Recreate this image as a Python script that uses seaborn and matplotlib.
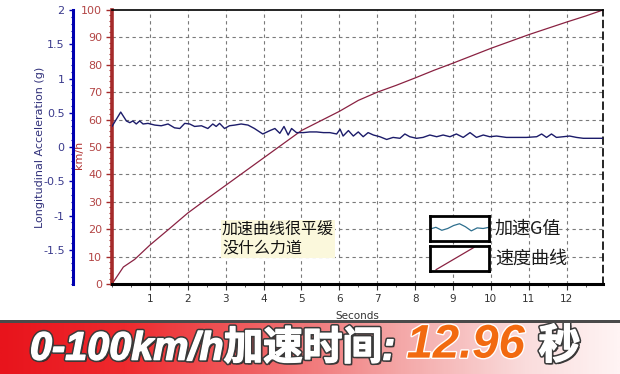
import matplotlib
matplotlib.use("Agg")
import matplotlib.pyplot as plt
import seaborn as sns
import numpy as np
from matplotlib import patheffects as pe
from matplotlib.colors import LinearSegmentedColormap
from matplotlib.patches import Rectangle

# ---------------- data ----------------
speed_t = [0, 0.3, 0.6, 1.0, 1.5, 2.0, 2.5, 3.0, 3.5, 4.0, 4.5, 5.0, 5.5, 6.0,
           6.5, 7.0, 7.5, 8.0, 8.5, 9.0, 9.5, 10.0, 10.5, 11.0, 11.5, 12.0,
           12.5, 12.96]
speed_kmh = [0, 6.2, 9.0, 14.2, 20.0, 25.9, 31.0, 36.0, 41.0, 46.0, 51.0,
             56.0, 59.5, 63.0, 67.0, 70.0, 72.5, 75.2, 78.0, 80.6, 83.3, 86.0,
             88.5, 91.0, 93.3, 95.6, 97.8, 100.0]

acc_t = [0.00, 0.23, 0.38, 0.47, 0.55, 0.64, 0.73, 0.82, 0.95, 1.13, 1.30,
         1.48, 1.65, 1.79, 1.92, 2.05, 2.18, 2.36, 2.53, 2.66, 2.75, 2.84,
         2.97, 3.10, 3.24, 3.41, 3.59, 3.76, 3.98, 4.17, 4.30, 4.43, 4.54,
         4.65, 4.74, 4.87, 5.05, 5.22, 5.40, 5.58, 5.75, 5.93, 6.02, 6.10,
         6.24, 6.37, 6.50, 6.63, 6.76, 6.90, 7.07, 7.25, 7.42, 7.60, 7.73,
         7.86, 8.04, 8.21, 8.39, 8.57, 8.74, 8.92, 9.09, 9.27, 9.45, 9.62,
         9.80, 9.97, 10.15, 10.41, 10.68, 10.94, 11.21, 11.34, 11.47, 11.60,
         11.73, 11.91, 12.08, 12.26, 12.44, 12.61, 12.96]
acc_g = [0.30, 0.51, 0.38, 0.355, 0.38, 0.336, 0.38, 0.336, 0.345, 0.32, 0.31,
         0.336, 0.28, 0.27, 0.345, 0.336, 0.30, 0.31, 0.27, 0.336, 0.30, 0.345,
         0.27, 0.31, 0.32, 0.336, 0.32, 0.27, 0.19, 0.24, 0.27, 0.20, 0.30,
         0.175, 0.27, 0.21, 0.21, 0.22, 0.22, 0.21, 0.21, 0.19, 0.26, 0.16,
         0.24, 0.16, 0.22, 0.15, 0.21, 0.175, 0.15, 0.11, 0.14, 0.127, 0.19,
         0.15, 0.127, 0.14, 0.175, 0.15, 0.175, 0.15, 0.19, 0.14, 0.21, 0.14,
         0.175, 0.15, 0.16, 0.14, 0.14, 0.14, 0.15, 0.19, 0.14, 0.19,
         0.14, 0.15, 0.16, 0.14, 0.127, 0.127, 0.127]

x_ticks = list(range(1, 13))
speed_ticks = [0, 10, 20, 30, 40, 50, 60, 70, 80, 90, 100]
acc_ticks = [2, 1.5, 1, 0.5, 0, -0.5, -1, -1.5]
acc_tick_labels = ["2", "1.5", "1", "0.5", "0", "-0.5", "-1", "-1.5"]

note_text = "加速曲线很平缓\n没什么力道"
legend_labels = ["加速G值", "速度曲线"]
legend_sample_acc = [0.0, 0.3, -0.2, 0.1, 0.6, 0.9, 0.4, -0.3, 0.2, 0.1, 0.3]
banner_main = "0-100km/h加速时间:"
banner_value = "12.96"
banner_unit = "秒"

# ---------------- style ----------------
sns.set_theme(style="white")
plt.rcParams["font.family"] = ["DejaVu Sans", "Noto Sans CJK SC"]
cjk = ["Noto Sans CJK SC", "DejaVu Sans"]

W, H = 620, 374
fig = plt.figure(figsize=(6.2, 3.74), dpi=100)
fig.patch.set_facecolor("white")
L, R, T, B = 112, 603, 10, 284
ax = fig.add_axes([L / W, (H - B) / H, (R - L) / W, (B - T) / H])
ax.set_facecolor("white")

speed_col = "#8a2242"
acc_col = "#1c1c6a"

sns.lineplot(x=speed_t, y=speed_kmh, ax=ax, color=speed_col, lw=0.9)
ax.set_xlim(0, 12.96)
ax.set_ylim(0, 100)

ax2 = ax.twinx()
sns.lineplot(x=acc_t, y=acc_g, ax=ax2, color=acc_col, lw=1.0)
ax2.set_ylim(-2, 2)

# grid
for xv in x_ticks:
    ax.axvline(xv, color="#7a7a7a", lw=0.8, ls=(0, (3, 3)), zorder=0)
for yv in speed_ticks[1:-1]:
    ax.axhline(yv, color="#7a7a7a", lw=0.8, ls=(0, (3, 3)), zorder=0)

# main axis (speed)
ax.set_xticks(x_ticks)
ax.set_xticklabels([str(v) for v in x_ticks], fontsize=7.5, color="#333333")
ax.set_yticks(speed_ticks)
ax.set_yticklabels([str(v) for v in speed_ticks], fontsize=8, color="#b34545")
ax.set_yticks(np.arange(0, 101, 2), minor=True)
ax.set_xticks(np.arange(0, 12.96, 0.5), minor=True)
ax.tick_params(axis="y", which="major", direction="out", length=4, width=1,
               color="#a52a2a", pad=3, left=True)
ax.tick_params(axis="y", which="minor", direction="out", length=2, width=0.8,
               color="#a52a2a", left=True)
ax.tick_params(axis="x", which="major", direction="out", length=4, width=0.8,
               color="#333333", pad=3, bottom=True)
ax.tick_params(axis="x", which="minor", direction="out", length=2, width=0.6,
               color="#333333", bottom=True)
for s in ["left", "right", "top", "bottom"]:
    ax.spines[s].set_visible(True)
ax.spines["left"].set_color("#a52a2a")
ax.spines["left"].set_linewidth(2.6)
ax.spines["bottom"].set_color("black")
ax.spines["bottom"].set_linewidth(2.2)
ax.spines["top"].set_color("black")
ax.spines["top"].set_linewidth(1.2)
ax.spines["right"].set_color("black")
ax.spines["right"].set_linewidth(1.2)
ax.spines["right"].set_linestyle((0, (4, 3)))
ax.set_xlabel("Seconds", fontsize=7.5, color="#333333")
ax.xaxis.set_label_coords(0.5, -0.1)
ax.set_ylabel("km/h", fontsize=8, color="#b03030")
ax.yaxis.set_label_coords(-0.058, 0.47)

# acceleration axis on far left
ax2.yaxis.tick_left()
ax2.yaxis.set_label_position("left")
for s in ["right", "top", "bottom"]:
    ax2.spines[s].set_visible(False)
ax2.spines["left"].set_visible(True)
ax2.spines["left"].set_position(("axes", -39 / 491))
ax2.spines["left"].set_color("#0000b0")
ax2.spines["left"].set_linewidth(2.2)
ax2.set_yticks(acc_ticks)
ax2.set_yticklabels(acc_tick_labels, fontsize=8, color="#3a3a8c")
ax2.set_yticks(np.arange(-2, 2.01, 0.1), minor=True)
ax2.tick_params(axis="y", which="major", direction="out", length=3, width=1,
                color="#0000b0", pad=3, left=True, right=False)
ax2.tick_params(axis="y", which="minor", direction="out", length=1.5,
                width=0.8, color="#0000b0", left=True, right=False)
ax2.set_ylabel("Longitudinal Acceleration (g)", fontsize=8, color="#30307a")
ax2.yaxis.set_label_coords(-0.137, 0.5)
ax2.grid(False)

# annotation
ax.text((222 - L) / (R - L), (B - 239) / (B - T), note_text, transform=ax.transAxes,
        ha="left", va="center", fontsize=11.5, family=cjk, color="#111111",
        linespacing=1.1, zorder=5,
        bbox=dict(boxstyle="square,pad=0.08", facecolor="#fbf8dc", edgecolor="none"))

# legend boxes
bx0, bx1 = (430 - L) / (R - L), (489 - L) / (R - L)
boxes = [(216, 241), (246, 271)]
for i, (y0, y1) in enumerate(boxes):
    ia = ax.inset_axes([bx0, (B - y1) / (B - T), bx1 - bx0, (y1 - y0) / (B - T)])
    ia.set_facecolor("white")
    ia.set_xticks([]); ia.set_yticks([])
    for s in ia.spines.values():
        s.set_visible(True); s.set_color("black"); s.set_linewidth(2.0)
    if i == 0:
        xs = np.linspace(0, 1, len(legend_sample_acc))
        ia.plot(xs, legend_sample_acc, color="#2e6f8e", lw=0.9)
        ia.set_xlim(0, 1); ia.set_ylim(-2, 2.2)
    else:
        ia.plot([0.1, 0.75], [0.05, 0.95], color=speed_col, lw=0.9)
        ia.set_xlim(0, 1); ia.set_ylim(0, 1)
    ax.text((495 - L) / (R - L), (B - (y0 + y1) / 2) / (B - T), legend_labels[i],
            transform=ax.transAxes, ha="left", va="center", fontsize=13,
            family=cjk, color="#1a1a1a")

# ---------------- banner ----------------
bh = 54
bax = fig.add_axes([0, 0, 1, bh / H])
cmap = LinearSegmentedColormap.from_list(
    "banner", [(0.0, "#e8141c"), (0.2, "#ee2a2e"), (0.45, "#f06a6c"),
               (0.65, "#f4a8a8"), (0.85, "#fadcdc"), (1.0, "#fff4f4")])
grad = np.linspace(0, 1, 300)[None, :]
bax.imshow(grad, aspect="auto", cmap=cmap, extent=[0, 1, 0, 1])
bax.set_xlim(0, 1); bax.set_ylim(0, 1)
bax.axis("off")
fig.add_artist(Rectangle((0, (bh - 3) / H), 1, 3 / H, transform=fig.transFigure,
                         facecolor="#4a4a4a", edgecolor="none"))

bfam = ["Liberation Sans", "Noto Sans CJK SC"]
fx = [pe.withSimplePatchShadow(offset=(1.5, -1.5), shadow_rgbFace="#222222", alpha=0.9),
      pe.Stroke(linewidth=3.2, foreground="#3a3a3a"),
      pe.Stroke(linewidth=1.0, foreground="white"), pe.Normal()]
t1 = bax.text(30 / W, 0.47, banner_main, transform=bax.transAxes, fontsize=28.5,
              color="white", weight="bold", style="italic", family=bfam,
              ha="left", va="center", path_effects=fx)
t2 = bax.annotate(banner_value, xy=(1, 0), xycoords=t1, xytext=(8, 0),
                  textcoords="offset points", fontsize=34, color="#f26a10",
                  weight="bold", style="italic", family=bfam, ha="left", va="bottom",
                  path_effects=[pe.Stroke(linewidth=2.0, foreground="white"), pe.Normal()])
t3 = bax.annotate(banner_unit, xy=(1, 0), xycoords=t2, xytext=(10, 0),
                  textcoords="offset points", fontsize=30, color="white",
                  weight="bold", style="italic", family=bfam, ha="left", va="bottom",
                  path_effects=fx)

fig.savefig("out.png", dpi=100, facecolor="white")
